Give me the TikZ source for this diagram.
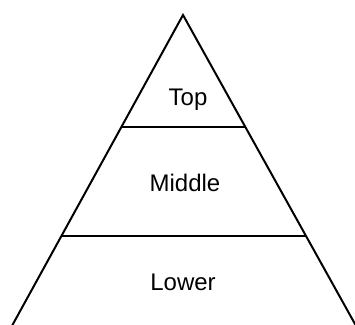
\documentclass[tikz,border=0pt]{standalone}
\usepackage{fontspec}
\setmainfont{Liberation Sans}
\usetikzlibrary{calc}
\begin{document}
\begin{tikzpicture}[x=1pt,y=-1pt,
  edge/.style={draw=black,line width=2pt},
  lbl/.style={font=\fontsize{24}{28}\selectfont,inner sep=0pt,anchor=center}]
\useasboundingbox (0,0) rectangle (355,324);
\clip (0,0) rectangle (355,324);
\coordinate (A) at (183,15);
\coordinate (BL) at (13,324);
\coordinate (BR) at (355,324);
\coordinate (BLx) at ($(A)!1.03!(BL)$);
\coordinate (BRx) at ($(A)!1.03!(BR)$);
\coordinate (T1) at ($(A)!0.3625!(BL)$);
\coordinate (T2) at ($(A)!0.3625!(BR)$);
\coordinate (M1) at ($(A)!0.715!(BL)$);
\coordinate (M2) at ($(A)!0.715!(BR)$);
\draw[edge,line join=miter] (BLx) -- (A) -- (BRx);
\draw[edge] (T1) -- (T2);
\draw[edge] (M1) -- (M2);
\node[lbl] (top) at (188,100) {Top};
\node[lbl] (middle) at (185,183) {Middle};
\node[lbl] (lower) at (183,282) {Lower};
\end{tikzpicture}
\end{document}
